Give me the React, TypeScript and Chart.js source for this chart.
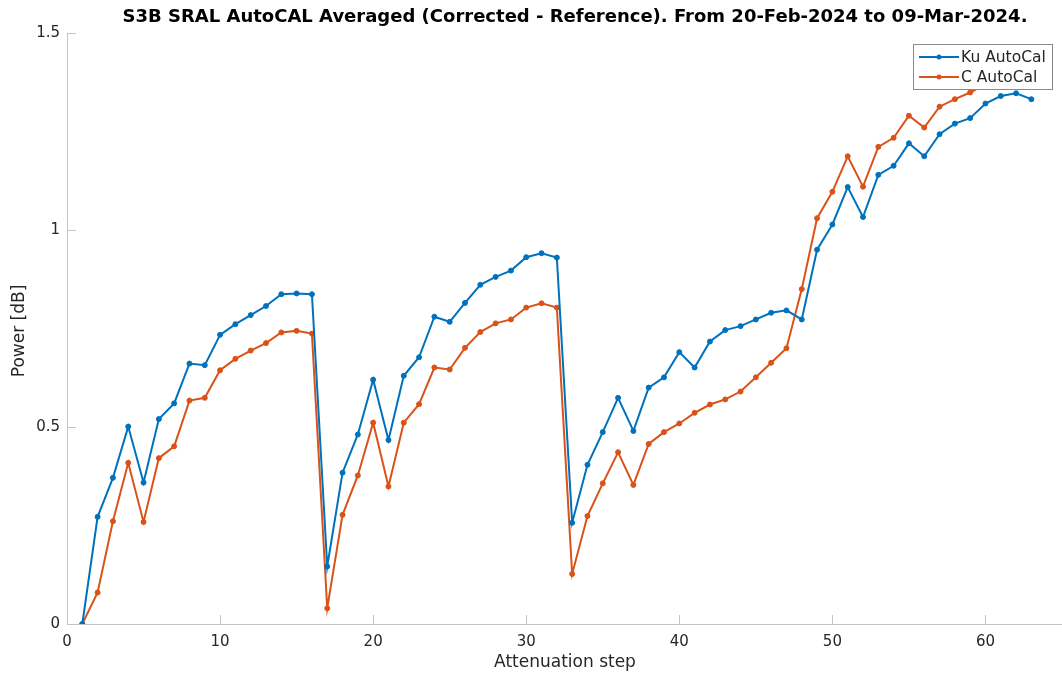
import React, { useEffect, useRef } from "react";
import { Chart, registerables } from "chart.js";

Chart.register(...registerables);

const TITLE = "S3B SRAL AutoCAL Averaged (Corrected - Reference). From 20-Feb-2024 to 09-Mar-2024.";
const X_LABEL = "Attenuation step";
const Y_LABEL = "Power [dB]";

const steps: number[] = Array.from({ length: 63 }, (_, i) => i + 1);

const kuAutoCal: number[] = [
  0, 0.272, 0.371, 0.501, 0.359, 0.52, 0.56, 0.661, 0.657, 0.734,
  0.761, 0.784, 0.807, 0.837, 0.839, 0.837, 0.146, 0.384, 0.481, 0.62,
  0.467, 0.63, 0.677, 0.78, 0.767, 0.815, 0.861, 0.881, 0.897, 0.931,
  0.941, 0.93, 0.257, 0.404, 0.487, 0.574, 0.49, 0.6, 0.626, 0.69,
  0.651, 0.717, 0.746, 0.756, 0.773, 0.79, 0.796, 0.773, 0.95, 1.014,
  1.109, 1.033, 1.14, 1.163, 1.22, 1.187, 1.243, 1.27, 1.284, 1.321,
  1.34, 1.347, 1.332,
];

const cAutoCal: number[] = [
  0, 0.08, 0.261, 0.409, 0.259, 0.421, 0.451, 0.567, 0.574, 0.644,
  0.673, 0.694, 0.713, 0.74, 0.744, 0.737, 0.04, 0.277, 0.377, 0.511,
  0.349, 0.511, 0.558, 0.651, 0.646, 0.701, 0.741, 0.763, 0.773, 0.803,
  0.814, 0.803, 0.127, 0.274, 0.357, 0.436, 0.353, 0.457, 0.487, 0.509,
  0.536, 0.557, 0.57, 0.59, 0.626, 0.663, 0.7, 0.85, 1.03, 1.097,
  1.187, 1.11, 1.211, 1.234, 1.29, 1.26, 1.313, 1.332, 1.349, 1.37,
  1.39, 1.4, 1.39,
];

const xTicks: number[] = [0, 10, 20, 30, 40, 50, 60];
const yTicks: number[] = [0, 0.5, 1, 1.5];
const yTickLabels: string[] = ["0", "0.5", "1", "1.5"];

const seriesNames: string[] = ["Ku AutoCal", "C AutoCal"];
const seriesColors: string[] = ["#0072BD", "#D95319"];

const FONT = "'DejaVu Sans', sans-serif";
const AXIS_COLOR = "#c4c4c4";
const TEXT_COLOR = "#262626";

// the canvas is a little wider than the visible frame so the plot runs to the edge
const VIEW_W = 1062;
const VIEW_H = 678;
const CANVAS_W = 1067;

const decorations = {
  id: "decorations",
  afterDraw(chart: any) {
    const { ctx, chartArea, scales } = chart;
    const xs = scales.x;
    const ys = scales.y;
    ctx.save();

    // inward tick marks
    ctx.strokeStyle = AXIS_COLOR;
    ctx.lineWidth = 1;
    const tl = 9;
    xTicks.forEach((v) => {
      const px = Math.round(xs.getPixelForValue(v)) + 0.5;
      ctx.beginPath();
      ctx.moveTo(px, chartArea.bottom);
      ctx.lineTo(px, chartArea.bottom - tl);
      ctx.stroke();
    });
    yTicks.forEach((v) => {
      const py = Math.round(ys.getPixelForValue(v)) + 0.5;
      ctx.beginPath();
      ctx.moveTo(chartArea.left, py);
      ctx.lineTo(chartArea.left + tl, py);
      ctx.stroke();
    });

    // title
    ctx.fillStyle = "#000";
    ctx.font = `bold 18px ${FONT}`;
    ctx.textAlign = "center";
    ctx.textBaseline = "middle";
    ctx.fillText(TITLE, 575, 17);

    // axis titles
    ctx.fillStyle = TEXT_COLOR;
    ctx.font = `17px ${FONT}`;
    ctx.fillText(X_LABEL, 565, 663);
    ctx.save();
    ctx.translate(20, 331);
    ctx.rotate(-Math.PI / 2);
    ctx.fillText(Y_LABEL, 0, 0);
    ctx.restore();

    // legend box in the upper right corner
    const lx = 913;
    const ly = 44;
    const lw = 139;
    const lh = 45;
    ctx.fillStyle = "#ffffff";
    ctx.fillRect(lx, ly, lw, lh);
    ctx.strokeStyle = "#8a8a8a";
    ctx.lineWidth = 1;
    ctx.strokeRect(lx + 0.5, ly + 0.5, lw, lh);
    ctx.font = `15.5px ${FONT}`;
    ctx.textAlign = "left";
    ctx.textBaseline = "middle";
    seriesNames.forEach((name, i) => {
      const cy = ly + 13 + i * 20;
      ctx.strokeStyle = seriesColors[i];
      ctx.lineWidth = 2;
      ctx.beginPath();
      ctx.moveTo(lx + 6, cy);
      ctx.lineTo(lx + 46, cy);
      ctx.stroke();
      ctx.fillStyle = seriesColors[i];
      ctx.beginPath();
      ctx.arc(lx + 26, cy, 2.5, 0, Math.PI * 2);
      ctx.fill();
      ctx.fillStyle = TEXT_COLOR;
      ctx.fillText(name, lx + 48, cy + 1);
    });

    ctx.restore();
  },
};

export default function App() {
  const canvasRef = useRef<HTMLCanvasElement | null>(null);

  useEffect(() => {
    const canvas = canvasRef.current;
    if (!canvas) return;

    const makeSeries = (values: number[], i: number) => ({
      label: seriesNames[i],
      data: steps.map((s, k) => ({ x: s, y: values[k] })),
      borderColor: seriesColors[i],
      backgroundColor: seriesColors[i],
      pointBackgroundColor: seriesColors[i],
      pointBorderColor: seriesColors[i],
      borderWidth: 2,
      pointRadius: 2.5,
      pointBorderWidth: 1,
      tension: 0,
    });

    const chart = new Chart(canvas, {
      type: "line",
      data: {
        datasets: [makeSeries(kuAutoCal, 0), makeSeries(cAutoCal, 1)],
      },
      options: {
        animation: false,
        responsive: false,
        devicePixelRatio: 1,
        layout: { padding: { top: 33, right: 0, bottom: 0, left: 0 } },
        plugins: {
          legend: { display: false },
          title: { display: false },
          tooltip: { enabled: false },
        },
        scales: {
          x: {
            type: "linear",
            min: 0,
            max: 65,
            afterBuildTicks: (scale: any) => {
              scale.ticks = xTicks.map((v) => ({ value: v }));
            },
            afterFit: (scale: any) => {
              scale.height = 54;
            },
            grid: { display: false, drawTicks: false },
            border: { display: true, color: AXIS_COLOR, width: 1 },
            ticks: {
              padding: 9,
              color: TEXT_COLOR,
              font: { family: FONT, size: 15 },
              maxRotation: 0,
              callback: (v: any) => String(v),
            },
          },
          y: {
            type: "linear",
            min: 0,
            max: 1.5,
            afterBuildTicks: (scale: any) => {
              scale.ticks = yTicks.map((v) => ({ value: v }));
            },
            afterFit: (scale: any) => {
              scale.width = 67;
            },
            grid: { display: false, drawTicks: false },
            border: { display: true, color: AXIS_COLOR, width: 1 },
            ticks: {
              padding: 7,
              color: TEXT_COLOR,
              font: { family: FONT, size: 15 },
              callback: (v: any) => {
                const idx = yTicks.indexOf(Number(v));
                return idx >= 0 ? yTickLabels[idx] : "";
              },
            },
          },
        },
      },
      plugins: [decorations],
    });

    return () => chart.destroy();
  }, []);

  return (
    <div
      style={{
        position: "absolute",
        left: 0,
        top: 0,
        width: VIEW_W,
        height: VIEW_H,
        overflow: "hidden",
        background: "#fff",
      }}
    >
      <canvas
        ref={canvasRef}
        width={CANVAS_W}
        height={VIEW_H}
        style={{ width: CANVAS_W, height: VIEW_H, display: "block" }}
      />
    </div>
  );
}
